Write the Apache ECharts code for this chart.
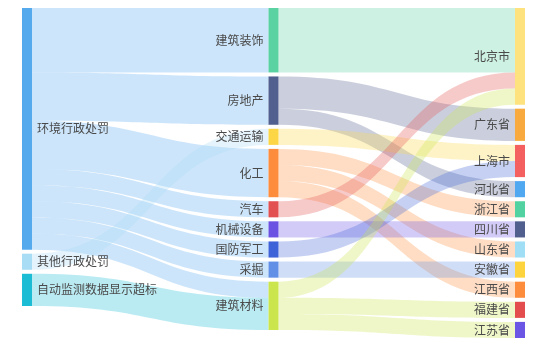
<!DOCTYPE html>
<html>
<head>
<meta charset="utf-8">
<script src="https://cdn.jsdelivr.net/npm/echarts@6/dist/echarts.min.js"></script>
<style>
  html, body { margin: 0; padding: 0; background: #fff; }
  #chart { width: 550px; height: 353px; }
</style>
</head>
<body>
<div id="chart"></div>
<script>
// 节点（按列顺序）
const nodeNames = [
  "环境行政处罚", "其他行政处罚", "自动监测数据显示超标",
  "建筑装饰", "房地产", "交通运输", "化工", "汽车", "机械设备", "国防军工", "采掘", "建筑材料",
  "北京市", "广东省", "上海市", "河北省", "浙江省", "四川省", "山东省", "安徽省", "江西省", "福建省", "江苏省"
];
const nodeColors = [
  "#55aaee", "#a9dcf5", "#1cbcd4",
  "#5ad2a2", "#52608f", "#fdd645", "#fd8d3c", "#e35050", "#6b52e3", "#3e63d8", "#6290e6", "#cbe64c",
  "#fde27e", "#f8aa3e", "#f46060", "#50a8f0", "#52d2a0", "#505f8e", "#a0def6", "#fdd43e", "#fd8c3d", "#e34d4d", "#6a55e4"
];
// 第一列的标签放在节点右侧
const firstColumn = ["环境行政处罚", "其他行政处罚", "自动监测数据显示超标"];
// 连线：来源、去向、数量
const linkSources = [
  "环境行政处罚", "环境行政处罚", "环境行政处罚", "环境行政处罚", "环境行政处罚",
  "环境行政处罚", "环境行政处罚", "环境行政处罚", "其他行政处罚", "自动监测数据显示超标",
  "建筑装饰", "房地产", "房地产", "交通运输", "化工", "化工", "化工",
  "汽车", "机械设备", "国防军工", "采掘", "建筑材料", "建筑材料", "建筑材料"
];
const linkTargets = [
  "建筑装饰", "房地产", "化工", "汽车", "机械设备",
  "国防军工", "采掘", "建筑材料", "交通运输", "建筑材料",
  "北京市", "广东省", "河北省", "上海市", "浙江省", "山东省", "江西省",
  "北京市", "四川省", "上海市", "安徽省", "北京市", "福建省", "江苏省"
];
const linkValues = [
  4, 3, 3, 1, 1,
  1, 1, 1, 1, 2,
  4, 2, 1, 1, 1, 1, 1,
  1, 1, 1, 1, 1, 1, 1
];

const myChart = echarts.init(document.getElementById("chart"));

const option = {
  animation: false,
  series: [
    {
      type: "sankey",
      left: 22,
      right: 25,
      top: 8,
      bottom: 15,
      nodeWidth: 10,
      nodeGap: 4,
      layoutIterations: 0,
      data: nodeNames.map((name, i) => ({
        name: name,
        itemStyle: { color: nodeColors[i], borderWidth: 0 },
        label: { position: firstColumn.indexOf(name) > -1 ? "right" : "left" }
      })),
      links: linkSources.map((s, i) => ({
        source: s,
        target: linkTargets[i],
        value: linkValues[i]
      })),
      label: {
        position: "left",
        color: "#4a4a4a",
        fontSize: 12,
        fontFamily: "Noto Sans CJK SC"
      },
      lineStyle: {
        color: "source",
        opacity: 0.3,
        curveness: 0.5
      }
    }
  ]
};

myChart.setOption(option);
</script>
</body>
</html>
